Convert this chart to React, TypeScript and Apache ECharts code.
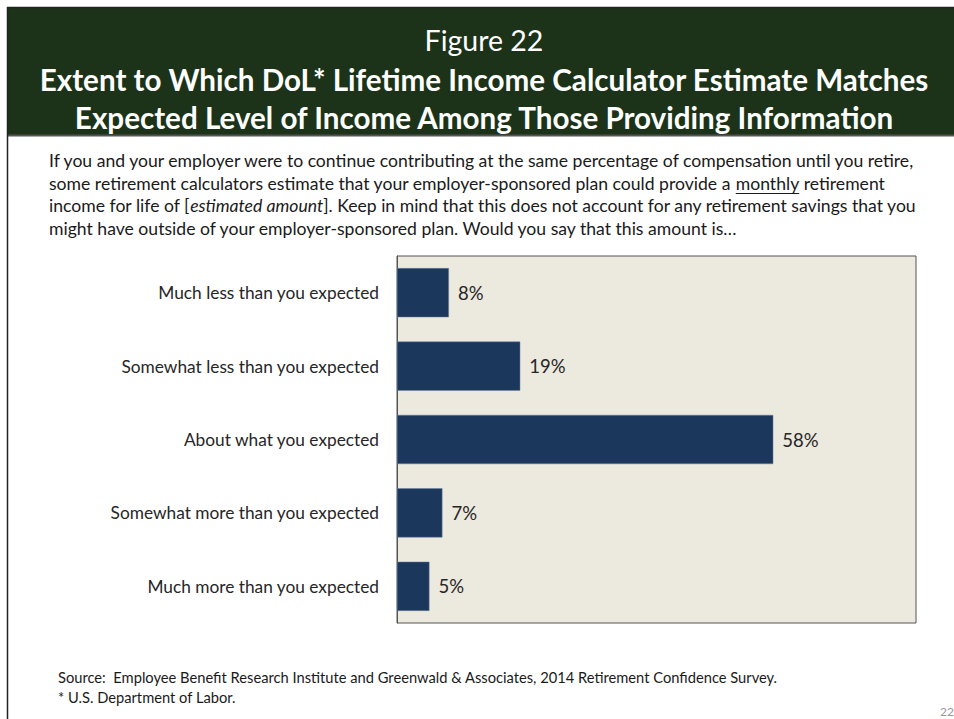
import React, { useEffect, useRef } from "react";
import * as echarts from "echarts";

const categories = [
  "Much less than you expected",
  "Somewhat less than you expected",
  "About what you expected",
  "Somewhat more than you expected",
  "Much more than you expected",
];
const values = [8, 19, 58, 7, 5];
const xMax = 80;

const FONT = "Lato, 'Open Sans', sans-serif";

const questionLines = [
  "If you and your employer were to continue contributing at the same percentage of compensation until you retire,",
  "some retirement calculators estimate that your employer-sponsored plan could provide a ",
  "income for life of [",
  "might have outside of your employer-sponsored plan. Would you say that this amount is\u2026",
];

function measure(text: string, font: string): number {
  const c = document.createElement("canvas");
  const ctx = c.getContext("2d");
  if (!ctx) return text.length * 7;
  ctx.font = font;
  return ctx.measureText(text).width;
}

export default function App() {
  const ref = useRef<HTMLDivElement>(null);
  useEffect(() => {
    document.body.style.margin = "0";
    if (!ref.current) return;
    const chart = echarts.init(ref.current, undefined, { renderer: "svg" });

    const qSize = 17.6;
    const qFont = `${qSize}px Lato`;
    const qx = 49;
    const l2prefix = questionLines[1];
    const monthlyX = qx + measure(l2prefix, qFont);
    const monthlyW = measure("monthly", qFont);
    const l3a = questionLines[2];
    const italicX = qx + measure(l3a, qFont);
    const italicW = measure("estimated amount", `italic ${qFont}`);

    const textStyle = (extra: any) => ({
      fontFamily: FONT,
      fontSize: qSize,
      fill: "#1a1a1a",
      textVerticalAlign: "middle",
      ...extra,
    });

    chart.setOption({
      animation: false,
      grid: {
        left: 397,
        top: 256,
        width: 519,
        height: 367,
        show: true,
        backgroundColor: "#ECE9DF",
        borderColor: "#555555",
        borderWidth: 1,
        containLabel: false,
      },
      xAxis: {
        type: "value",
        min: 0,
        max: xMax,
        axisLine: { show: false },
        axisTick: { show: false },
        axisLabel: { show: false },
        splitLine: { show: false },
      },
      yAxis: {
        type: "category",
        data: categories,
        inverse: true,
        axisLine: { show: true, lineStyle: { color: "#555555", width: 1 } },
        axisTick: { show: false },
        axisLabel: {
          fontFamily: FONT,
          fontSize: 17.3,
          color: "#262626",
          margin: 18,
        },
      },
      series: [
        {
          type: "bar",
          data: values,
          barCategoryGap: "33%",
          itemStyle: { color: "#1B375C", borderColor: "#6E83A0", borderWidth: 0.5 },
          label: {
            show: true,
            position: "right",
            distance: 9,
            formatter: "{c}%",
            fontFamily: FONT,
            fontSize: 18.5,
            color: "#262626",
          },
        },
      ],
      graphic: [
        { type: "rect", shape: { x: 7, y: 7, width: 947, height: 128 }, style: { fill: "#1C3319" }, z: 0 },
        { type: "line", shape: { x1: 7, y1: 7.5, x2: 954, y2: 7.5 }, style: { stroke: "#222222", lineWidth: 1.5 } },
        { type: "line", shape: { x1: 7, y1: 135.5, x2: 954, y2: 135.5 }, style: { stroke: "#555555", lineWidth: 2 } },
        { type: "line", shape: { x1: 7.5, y1: 7, x2: 7.5, y2: 719 }, style: { stroke: "#222222", lineWidth: 1.5 } },
        {
          type: "text",
          x: 484,
          y: 40,
          style: { text: "Figure 22", fontFamily: FONT, fontSize: 28.5, fill: "#ffffff", textAlign: "center", textVerticalAlign: "middle" },
        },
        {
          type: "text",
          x: 484,
          y: 79,
          style: {
            text: "Extent to Which DoL* Lifetime Income Calculator Estimate Matches",
            fontFamily: FONT,
            fontWeight: "bold",
            fontSize: 29.6,
            fill: "#ffffff",
            textAlign: "center",
            textVerticalAlign: "middle",
          },
        },
        {
          type: "text",
          x: 484,
          y: 117,
          style: {
            text: "Expected Level of Income Among Those Providing Information",
            fontFamily: FONT,
            fontWeight: "bold",
            fontSize: 29.6,
            fill: "#ffffff",
            textAlign: "center",
            textVerticalAlign: "middle",
          },
        },
        { type: "text", x: qx, y: 160, style: textStyle({ text: questionLines[0] }) },
        { type: "text", x: qx, y: 183, style: textStyle({ text: l2prefix }) },
        { type: "text", x: monthlyX, y: 183, style: textStyle({ text: "monthly" }) },
        { type: "text", x: monthlyX + monthlyW, y: 183, style: textStyle({ text: " retirement" }) },
        { type: "line", shape: { x1: monthlyX, y1: 193.5, x2: monthlyX + monthlyW, y2: 193.5 }, style: { stroke: "#1a1a1a", lineWidth: 1 } },
        { type: "text", x: qx, y: 205, style: textStyle({ text: l3a }) },
        { type: "text", x: italicX, y: 205, style: textStyle({ text: "estimated amount", fontStyle: "italic" }) },
        {
          type: "text",
          x: italicX + italicW,
          y: 205,
          style: textStyle({ text: "]. Keep in mind that this does not account for any retirement savings that you" }),
        },
        { type: "text", x: qx, y: 228, style: textStyle({ text: questionLines[3] }) },
        {
          type: "text",
          x: 58,
          y: 677,
          style: {
            text: "Source:  Employee Benefit Research Institute and Greenwald & Associates, 2014 Retirement Confidence Survey.",
            fontFamily: FONT,
            fontSize: 14.7,
            fill: "#1a1a1a",
            textVerticalAlign: "middle",
          },
        },
        {
          type: "text",
          x: 58,
          y: 697,
          style: { text: "* U.S. Department of Labor.", fontFamily: FONT, fontSize: 14.7, fill: "#1a1a1a", textVerticalAlign: "middle" },
        },
        {
          type: "text",
          x: 940,
          y: 711,
          style: { text: "22", fontFamily: FONT, fontSize: 12, fill: "#999999", textVerticalAlign: "middle" },
        },
      ],
    });
    return () => chart.dispose();
  }, []);
  return <div ref={ref} style={{ width: 954, height: 719 }} />;
}
